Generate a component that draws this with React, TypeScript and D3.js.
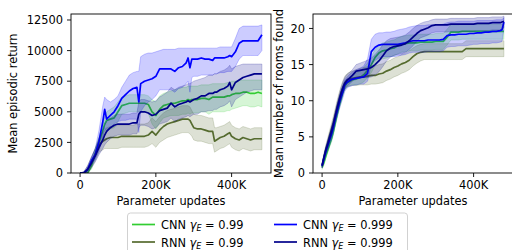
import React from "react";
import * as d3 from "d3";

// ---------- data: left panel (Mean episodic return) ----------
const leftX = [0,10,20,30,40,50,60,65,70,80, 90,100,110,120,130,140,150,155,160,170, 180,190,200,210,220,230,240,250,260,270, 280,285,290,295,300,310,320,330,340,350, 355,360,370,380,390,395,400,410,420,430, 440,450,460,470,480];

const cnn99Ret = [0,0,0,600,1600,2500,3500,4000,4300,4400, 4500,5000,5500,5600,5700,5700,5700,5700,5700,5700, 5600,5000,4700,5200,5500,5600,5700,5700,5800,5900, 5900,6000,5900,6000,6000,6000,6100,6100,6000,6200, 6200,6200,6200,6200,6300,6300,6400,6500,6500,6600, 6600,6500,6500,6600,6500];
const cnn99RetHi = [0,0,200,1000,2000,2900,4000,4600,5000,5200, 5400,5800,6200,6300,6400,6400,6400,6400,6400,6400, 6300,6000,5800,6300,6500,6600,6700,6800,6900,7000, 7000,7100,7100,7100,7100,7100,7200,7200,7200,7300, 7300,7300,7300,7300,7400,7400,7500,7500,7600,7600, 7600,7600,7600,7600,7600];
const cnn99RetLo = [0,0,0,300,1200,2100,3000,3400,3600,3600, 3700,4200,4800,4900,5000,5000,5000,5000,5000,5000, 4900,4000,3600,4100,4500,4600,4700,4700,4700,4800, 4800,4900,4800,4900,4900,4900,5000,5000,4800,5000, 5000,5000,5000,5000,5100,5100,5200,5300,5400,5500, 5500,5400,5400,5500,5400];

const rnn99Ret = [0,0,300,900,1500,2300,2600,2700,2800,2900, 2900,2900,3000,3000,3000,3000,3000,3000,3000,3000, 3100,3400,3100,3500,3800,4000,4100,4200,4300,4400, 4400,4400,4300,4000,3700,3600,3600,3500,3400,3400, 2600,2700,2900,3000,3200,3300,3000,2800,2700,2900, 2800,2700,2800,2800,2800];
const rnn99RetHi = [0,100,600,1300,2000,2900,3300,3500,3700,3800, 3800,3900,3900,3900,3900,3900,4000,4000,4000,4000, 4100,4500,4200,4600,4900,5100,5200,5300,5400,5500, 5500,5500,5400,5100,4800,4700,4700,4600,4500,4500, 3700,3700,3800,3900,4100,4200,3900,3700,3600,3800, 3700,3600,3700,3700,3700];
const rnn99RetLo = [0,0,0,500,1000,1700,1900,2000,2000,2000, 2000,2000,2100,2100,2100,2100,2100,2100,2100,2100, 2200,2400,2100,2500,2700,2900,3000,3100,3200,3300, 3300,3300,3200,3000,2700,2600,2600,2500,2400,2400, 1700,1800,2000,2100,2300,2400,2100,1900,1800,2000, 1900,1800,1900,1900,1900];

const cnn999Ret = [0,0,300,1000,1500,2600,4200,5200,4400,4700, 5000,5500,6100,6400,6700,6900,7000,5800,7300,7500, 7600,7700,7900,8500,8500,8500,8500,8300,8600,8700, 9000,9400,8600,9300,9300,9300,9400,9300,9300,9200, 9400,9400,9400,9400,9500,9600,9500,9900,10600,10800, 10800,10800,10800,10800,11300];
const cnn999RetHi = [0,100,500,1300,2000,3500,5500,6200,6000,5800, 6000,6300,7000,7500,8000,8200,8300,8300,9500,9700, 9800,9800,9900,10000,10100,10100,10100,10100,10200,10200, 10200,10200,10200,10200,10200,10200,10200,10200,10200,10200, 10200,10200,10300,10300,10300,10300,10300,11000,11800,12000, 12000,12000,12000,12000,12100];
const cnn999RetLo = [0,0,100,700,1100,1800,2800,3700,3300,3700, 4000,4200,4300,4300,4400,4400,4400,3300,5000,5500, 5800,6000,6300,6800,6800,6800,6800,6600,6900,7000, 7300,7500,6600,7800,7900,7900,8000,8000,8000,8000, 8100,8100,8200,8200,8300,8300,8300,8700,9300,9600, 9600,9600,9600,9600,10000];

const rnn999Ret = [0,0,300,800,1400,2100,2700,3100,3400,3700, 3900,4000,4000,4000,4000,4100,4100,4800,5000,5000, 4900,4700,4800,5100,5200,5300,5700,5400,5600,5700, 5800,5900,5800,5900,6000,6100,6300,6300,6500,6500, 6600,6600,6800,6900,7100,7400,6800,7400,7600,7800, 7900,8000,8100,8100,8100];
const rnn999RetHi = [0,100,600,1300,2000,2800,3500,3900,4200,4500, 4700,4800,4800,4800,4800,4900,4900,5800,6000,6000, 5900,5800,5900,6200,6400,6600,7000,6800,7000,7100, 7200,7300,7300,7400,7500,7600,7700,7800,8000,8000, 8100,8100,8300,8400,8600,8800,8500,8700,8800,8900, 8900,8900,8900,8900,8900];
const rnn999RetLo = [0,0,0,400,900,1500,2000,2300,2500,2800, 3000,3100,3100,3100,3100,3200,3200,3700,3900,3900, 3800,3600,3700,4000,4100,4200,4500,4200,4400,4500, 4600,4700,4600,4700,4800,4800,5000,5000,5100,5100, 5200,5200,5400,5500,5700,5900,5400,6000,6200,6400, 6600,6700,6800,6800,6800];

// ---------- data: right panel (Mean number of rooms found) ----------
const rightX = [0,5,10,15,20,25,30,35,40,45,50,55,60,65,70, 80,90,100,110,120,130,140,150,160,170, 180,190,200,210,220,230,240,250,260,270, 280,290,300,310,320,330,340,350,360,370, 380,390,400,410,420,430,440,450,460,470, 475,480];

const cnn99Rooms = [0.8,1.5,2.4,3.2,4.0,4.8,5.8,7.0,8.2,9.3,10.2,11.2,12.0,12.4,12.6, 12.9,13.0,13.2,13.6,14.2,15.0,16.0,16.6,16.9,17.0, 17.2,17.3,17.6,17.8,17.9,18.0,18.0,18.0,18.1,18.1, 18.1,18.1,18.2,18.2,18.2,18.8,19.5,19.5,19.5,19.6, 19.6,19.6,19.6,19.6,19.6,19.6,19.6,19.6,19.6,19.6, 19.6,19.6];
const cnn99RoomsHi = [1.1,1.9,2.8,3.6,4.4,5.3,6.3,7.5,8.7,9.8,10.7,11.7,12.5,12.9,13.2, 13.6,13.8,14.1,14.6,15.2,16.1,17.1,17.7,18.0,18.1, 18.3,18.4,18.7,18.9,19.0,19.1,19.1,19.1,19.2,19.2, 19.2,19.2,19.3,19.3,19.3,19.9,20.5,20.5,20.5,20.6, 20.6,20.6,20.6,20.6,20.6,20.6,20.6,20.6,20.6,20.6, 20.6,20.6];
const cnn99RoomsLo = [0.5,1.1,2.0,2.8,3.6,4.3,5.3,6.5,7.7,8.8,9.7,10.7,11.5,11.9,12.0, 12.2,12.2,12.3,12.6,13.2,13.9,14.9,15.5,15.8,15.9, 16.1,16.2,16.5,16.7,16.8,16.9,16.9,16.9,17.0,17.0, 17.0,17.0,17.1,17.1,17.1,17.7,18.4,18.4,18.4,18.5, 18.5,18.5,18.5,18.5,18.5,18.5,18.5,18.5,18.5,18.5, 18.5,18.5];

const rnn99Rooms = [1.0,2.2,3.3,4.2,5.2,6.1,7.0,8.1,9.2,10.2,11.1,11.9,12.5,12.8,13.0, 13.1,13.2,13.3,13.3,13.4,13.5,13.5,13.7,13.8,14.1, 14.3,14.6,14.8,15.1,15.3,15.6,16.1,16.5,16.7,16.8, 16.8,16.8,16.8,16.8,16.8,16.8,16.8,16.8,16.8,16.8, 17.2,17.2,17.2,17.2,17.2,17.2,17.2,17.2,17.2,17.2, 17.2,17.2];
const rnn99RoomsHi = [1.4,2.7,3.9,4.9,5.9,6.9,7.9,9.0,10.1,11.1,12.0,12.8,13.4,13.7,13.9, 14.1,14.3,14.5,14.6,14.7,14.8,14.8,15.0,15.1,15.4, 15.6,15.9,16.1,16.4,16.6,16.9,17.3,17.6,17.8,17.9, 17.9,17.9,17.9,17.9,17.9,17.9,17.9,17.9,17.9,17.9, 18.3,18.3,18.3,18.3,18.3,18.3,18.3,18.3,18.3,18.3, 18.3,18.3];
const rnn99RoomsLo = [0.7,1.7,2.7,3.5,4.5,5.3,6.1,7.2,8.3,9.3,10.2,11.0,11.6,11.9,12.0, 12.1,12.1,12.2,12.2,12.2,12.3,12.3,12.4,12.5,12.8, 13.0,13.3,13.5,13.8,14.0,14.3,14.8,15.2,15.5,15.7, 15.7,15.7,15.7,15.7,15.7,15.7,15.7,15.7,15.7,15.7, 16.1,16.1,16.1,16.1,16.1,16.1,16.1,16.1,16.1,16.1, 16.1,16.1];

const cnn999Rooms = [1.0,2.0,3.0,3.8,4.6,5.4,6.4,7.6,8.6,9.6,10.5,11.3,12.2,12.5,12.7, 13.0,13.1,13.2,13.3,13.8,16.8,17.4,17.7,17.8,17.8, 17.8,17.8,17.8,17.9,18.0,18.2,18.3,18.3,18.3,18.3, 18.4,18.4,18.4,18.4,18.5,19.0,19.1,19.1,19.2,19.2, 19.2,19.3,19.3,19.4,19.4,19.5,19.5,19.6,19.6,19.7, 19.8,20.9];
const cnn999RoomsHi = [1.3,2.5,3.6,4.5,5.4,6.3,7.3,8.5,9.5,10.5,11.4,12.2,12.9,13.2,13.5, 14.0,14.3,14.5,14.8,15.8,18.5,19.2,19.4,19.4,19.5, 19.5,19.6,19.8,19.9,20.0,20.2,20.3,20.4,20.4,20.4, 20.5,20.5,20.5,20.5,20.6,20.8,20.9,20.9,21.0,21.0, 21.0,21.0,21.0,21.1,21.1,21.1,21.1,21.1,21.2,21.2, 21.2,21.5];
const cnn999RoomsLo = [0.7,1.5,2.4,3.1,3.8,4.5,5.5,6.7,7.7,8.7,9.6,10.4,11.3,11.7,11.9, 12.1,12.2,12.3,12.3,12.7,15.0,15.6,15.9,16.1,16.1, 16.1,16.1,16.2,16.3,16.4,16.6,16.7,16.7,16.7,16.7, 16.8,16.8,16.8,16.8,16.9,17.4,17.5,17.5,17.6,17.6, 17.6,17.7,17.8,17.8,17.9,17.9,17.9,18.0,18.0,18.1, 18.2,19.9];

const rnn999Rooms = [1.0,2.2,3.2,4.0,4.9,5.8,6.8,7.9,9.0,10.0,11.0,11.8,12.4,12.8,13.0, 13.5,14.1,14.2,14.3,14.4,14.6,15.0,15.5,16.2,16.9, 17.3,17.5,17.6,17.7,17.9,18.3,18.8,19.3,19.7,19.9, 20.1,20.4,20.5,20.5,20.5,20.5,20.6,20.6,20.6,20.6, 20.6,20.6,20.6,20.7,20.7,20.7,20.7,20.8,20.8,20.8, 20.9,21.0];
const rnn999RoomsHi = [1.3,2.6,3.7,4.6,5.5,6.5,7.5,8.6,9.8,10.8,11.8,12.6,13.2,13.6,13.8, 14.3,15.0,15.2,15.4,15.6,15.9,16.4,17.0,17.7,18.3, 18.6,18.7,18.8,18.9,19.1,19.5,20.0,20.4,20.7,20.9, 21.0,21.2,21.3,21.3,21.3,21.3,21.4,21.4,21.4,21.4, 21.4,21.4,21.4,21.5,21.5,21.5,21.5,21.6,21.6,21.6, 21.6,21.7];
const rnn999RoomsLo = [0.7,1.8,2.7,3.4,4.3,5.1,6.1,7.2,8.2,9.2,10.2,11.0,11.6,12.0,12.2, 12.7,13.2,13.2,13.2,13.2,13.3,13.6,14.0,14.7,15.5, 16.0,16.3,16.4,16.5,16.7,17.1,17.6,18.2,18.7,18.9, 19.1,19.4,19.5,19.5,19.5,19.5,19.6,19.6,19.6,19.6, 19.6,19.6,19.6,19.7,19.7,19.7,19.7,19.8,19.8,19.8, 19.9,20.1];

// ---------- labels / ticks ----------
const xTicks = [0, 200, 400];
const retTicks = [0, 2500, 5000, 7500, 10000, 12500];
const roomTicks = [0, 5, 10, 15, 20];
const seriesNames = ["CNN", "RNN", "CNN", "RNN"];
const seriesGammas = ["0.99", "0.99", "0.999", "0.999"];
const seriesColors = ["#32cd32", "#556b2f", "#0000ff", "#00008b"];

const FONT = "DejaVu Sans, sans-serif";

type Series = { mean: number[]; lo: number[]; hi: number[]; color: string };

function Panel(props: {
  xs: number[];
  series: Series[];
  left: number;
  right: number;
  top: number;
  bottom: number;
  yMax: number;
  yTicks: number[];
  yLabel: string;
  yLabelX: number;
}) {
  const { xs, series, left, right, top, bottom, yMax, yTicks, yLabel, yLabelX } = props;
  const x = d3.scaleLinear().domain([-24, 504]).range([left, right]);
  const y = d3.scaleLinear().domain([0, yMax]).range([bottom, top]);
  const line = (vals: number[]) =>
    d3.line<number>().x((_, i) => x(xs[i])).y((v) => y(v))(vals) || "";
  const area = (lo: number[], hi: number[]) =>
    d3
      .area<number>()
      .x((_, i) => x(xs[i]))
      .y0((_, i) => y(lo[i]))
      .y1((_, i) => y(hi[i]))(lo) || "";
  const fs = 11.4;
  return (
    <g>
      <defs>
        <clipPath id={`clip${left}`}>
          <rect x={left} y={top} width={right - left} height={bottom - top} />
        </clipPath>
      </defs>
      <g clipPath={`url(#clip${left})`}>
        {series.map((s, i) => (
          <g key={i}>
            <path d={area(s.lo, s.hi)} fill={s.color} fillOpacity={0.2} stroke={s.color} strokeOpacity={0.2} strokeWidth={1} />
            <path d={line(s.mean)} fill="none" stroke={s.color} strokeWidth={1.7} strokeLinejoin="round" />
          </g>
        ))}
      </g>
      <rect x={left} y={top} width={right - left} height={bottom - top} fill="none" stroke="#000" strokeWidth={0.9} />
      {xTicks.map((t) => (
        <g key={t}>
          <line x1={x(t)} x2={x(t)} y1={bottom} y2={bottom + 4} stroke="#000" strokeWidth={0.9} />
          <text x={x(t)} y={189} textAnchor="middle" fontSize={fs} fontFamily={FONT} fill="#000">
            {t === 0 ? "0" : `${t}K`}
          </text>
        </g>
      ))}
      {yTicks.map((t) => (
        <g key={t}>
          <line x1={left - 4} x2={left} y1={y(t)} y2={y(t)} stroke="#000" strokeWidth={0.9} />
          <text x={left - 8} y={y(t)} dy="0.36em" textAnchor="end" fontSize={fs} fontFamily={FONT} fill="#000">
            {t}
          </text>
        </g>
      ))}
      <text x={(left + right) / 2} y={205} textAnchor="middle" fontSize={fs} fontFamily={FONT} fill="#000">
        Parameter updates
      </text>
      <text
        transform={`translate(${yLabelX},${(top + bottom) / 2}) rotate(-90)`}
        textAnchor="middle"
        fontSize={fs}
        fontFamily={FONT}
        fill="#000"
      >
        {yLabel}
      </text>
    </g>
  );
}

function LegendLabel(props: { x: number; y: number; name: string; gamma: string }) {
  const { x, y, name, gamma } = props;
  return (
    <text x={x} y={y} fontSize={11.4} fontFamily={FONT} fill="#000">
      <tspan>{name} </tspan>
      <tspan fontStyle="italic">γ</tspan>
      <tspan fontStyle="italic" fontSize={8} dy={2}>E</tspan>
      <tspan dy={-2}> = {gamma}</tspan>
    </text>
  );
}

export default function App() {
  const leftSeries: Series[] = [
    { mean: cnn99Ret, lo: cnn99RetLo, hi: cnn99RetHi, color: seriesColors[0] },
    { mean: rnn99Ret, lo: rnn99RetLo, hi: rnn99RetHi, color: seriesColors[1] },
    { mean: cnn999Ret, lo: cnn999RetLo, hi: cnn999RetHi, color: seriesColors[2] },
    { mean: rnn999Ret, lo: rnn999RetLo, hi: rnn999RetHi, color: seriesColors[3] },
  ];
  const rightSeries: Series[] = [
    { mean: cnn99Rooms, lo: cnn99RoomsLo, hi: cnn99RoomsHi, color: seriesColors[0] },
    { mean: rnn99Rooms, lo: rnn99RoomsLo, hi: rnn99RoomsHi, color: seriesColors[1] },
    { mean: cnn999Rooms, lo: cnn999RoomsLo, hi: cnn999RoomsHi, color: seriesColors[2] },
    { mean: rnn999Rooms, lo: rnn999RoomsLo, hi: rnn999RoomsHi, color: seriesColors[3] },
  ];
  const legendPos = [
    { lx: 132, ty: 229, hy: 224.5 },
    { lx: 132, ty: 246.5, hy: 242 },
    { lx: 274, ty: 229, hy: 224.5 },
    { lx: 274, ty: 246.5, hy: 242 },
  ];
  return (
    <svg width={512} height={250} style={{ position: "absolute", left: 0, top: 0, background: "#fff" }}>
      <rect width={512} height={250} fill="#fff" />
      <Panel xs={leftX} series={leftSeries} left={71} right={271} top={14} bottom={173} yMax={12990} yTicks={retTicks} yLabel="Mean episodic return" yLabelX={17} />
      <Panel xs={rightX} series={rightSeries} left={313} right={513} top={14} bottom={173} yMax={22} yTicks={roomTicks} yLabel="Mean number of rooms found" yLabelX={283} />
      <rect x={127.5} y={213} width={280} height={45} rx={3} fill="#fff" fillOpacity={0.8} stroke="#cccccc" strokeWidth={0.9} />
      {seriesNames.map((n, i) => (
        <g key={i}>
          <line x1={legendPos[i].lx} x2={legendPos[i].lx + 23} y1={legendPos[i].hy} y2={legendPos[i].hy} stroke={seriesColors[i]} strokeWidth={1.7} />
          <LegendLabel x={legendPos[i].lx + 29} y={legendPos[i].ty} name={n} gamma={seriesGammas[i]} />
        </g>
      ))}
    </svg>
  );
}
